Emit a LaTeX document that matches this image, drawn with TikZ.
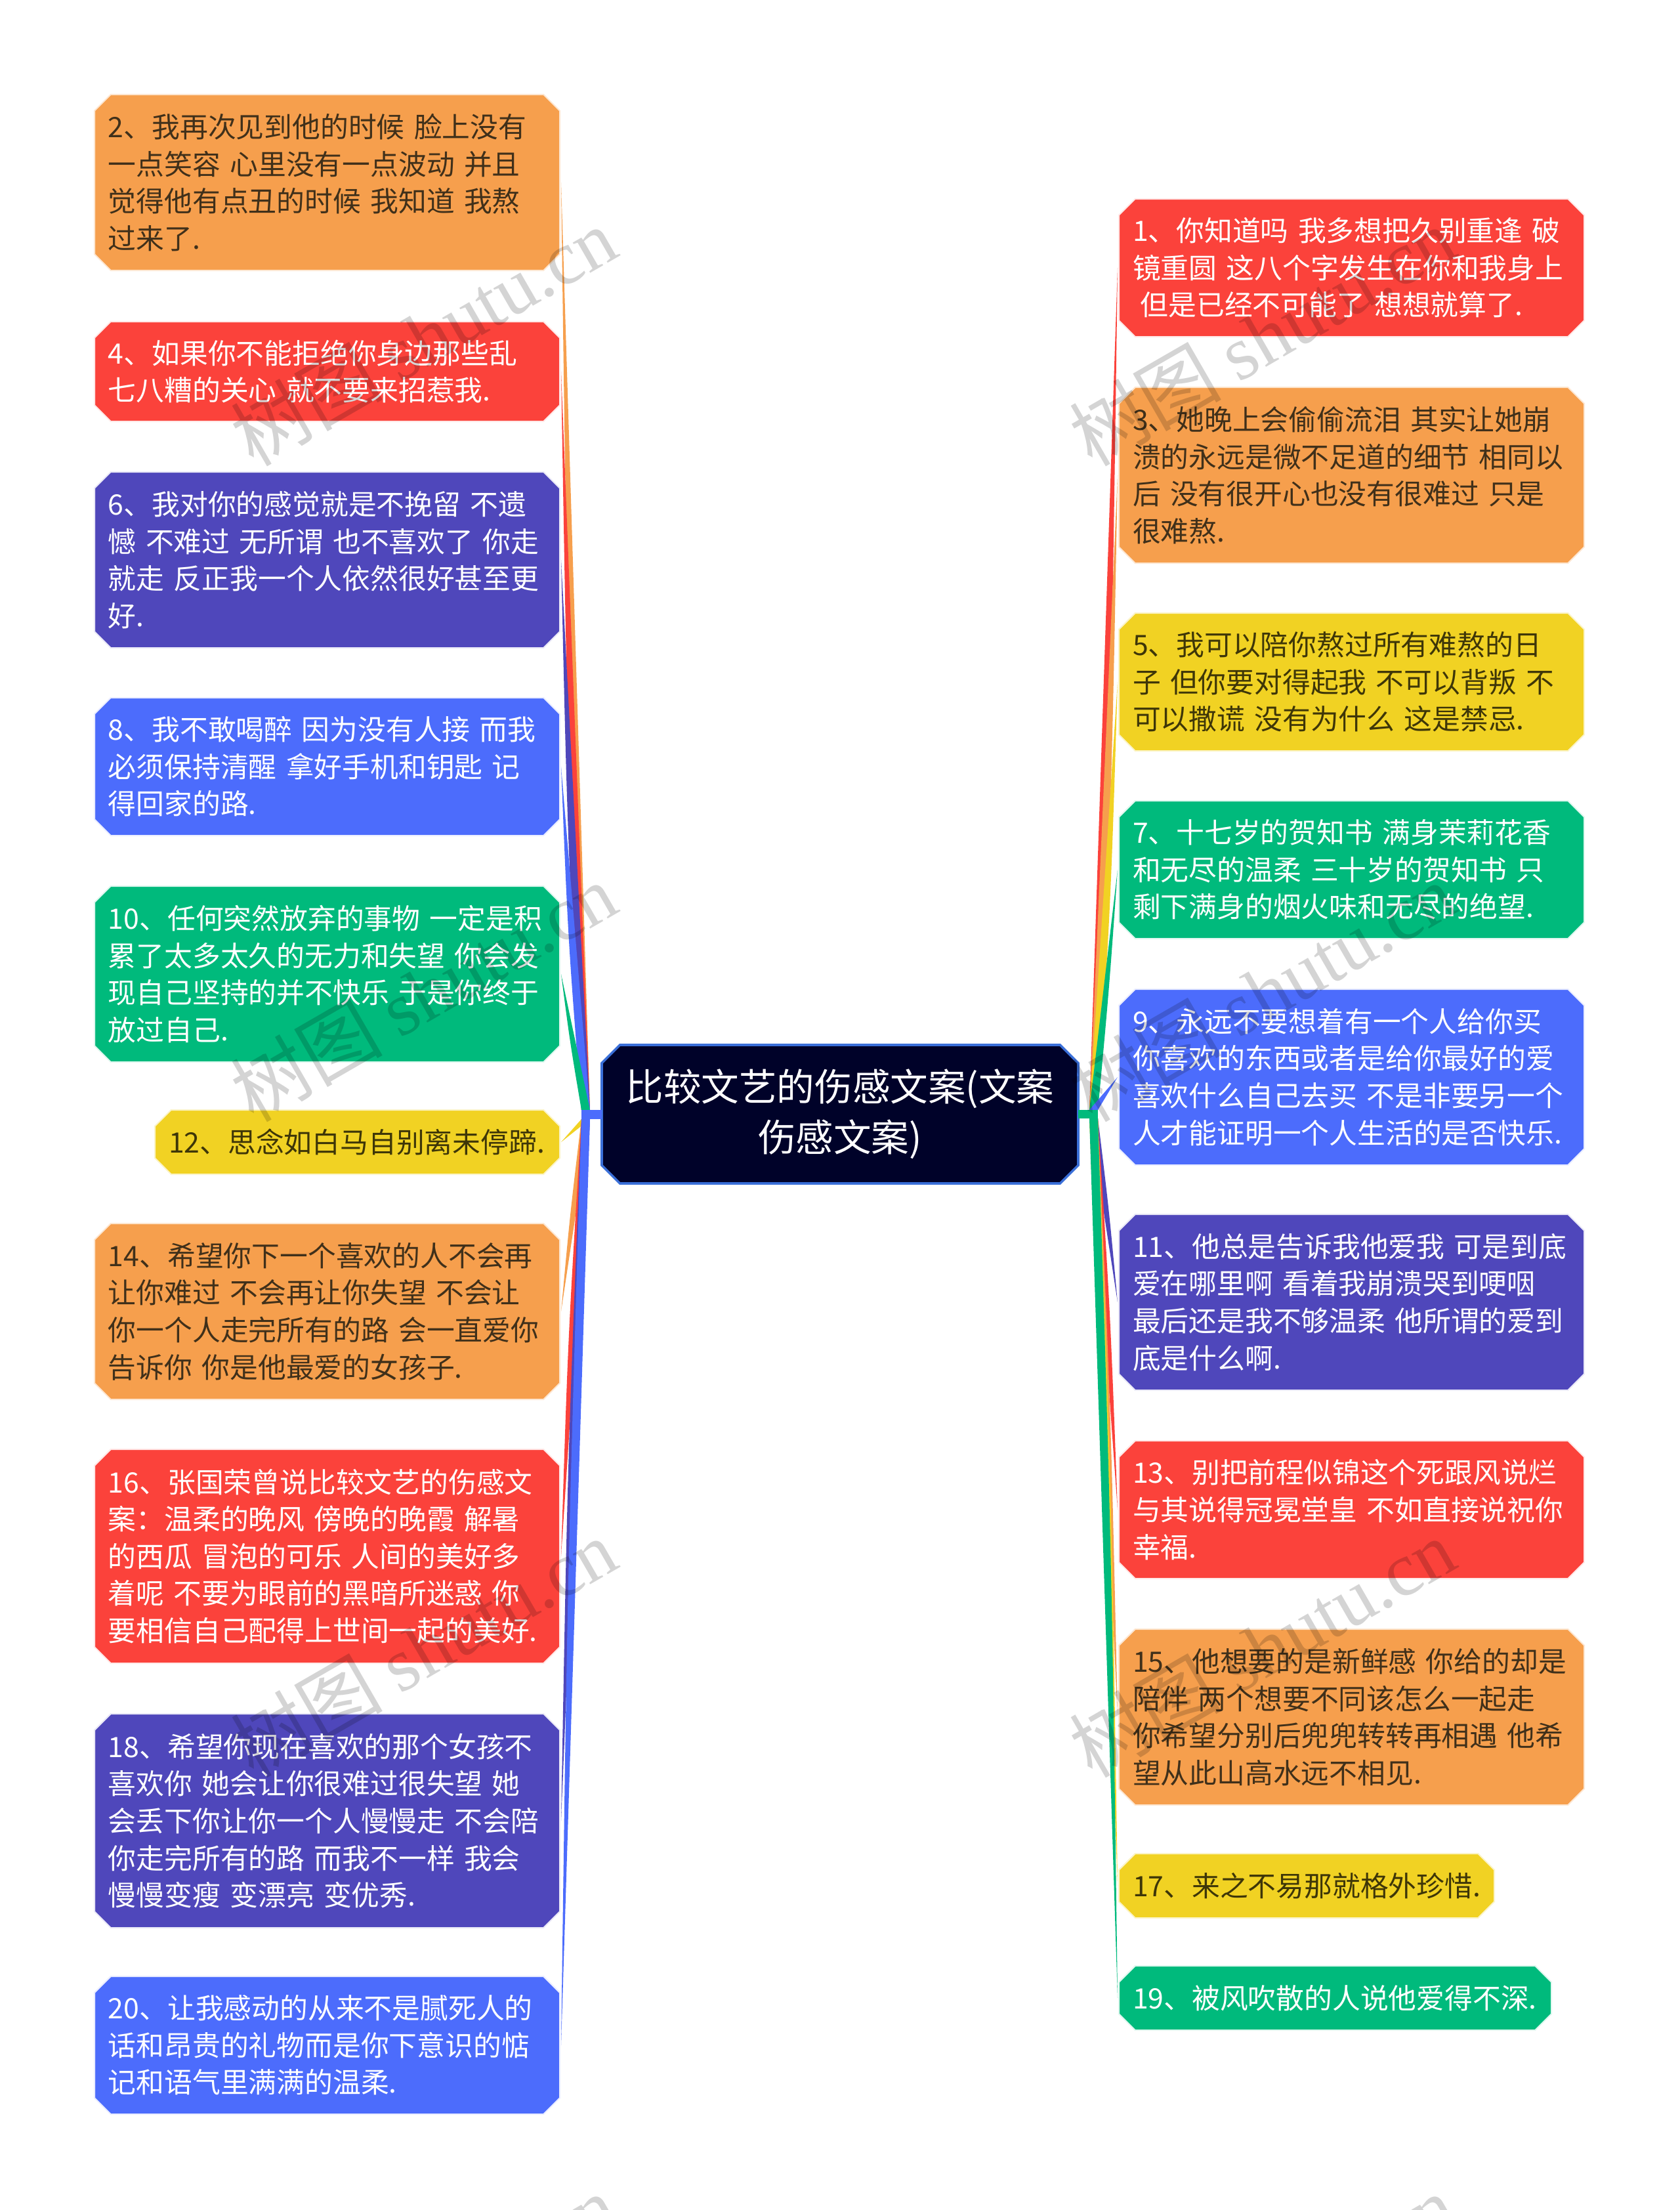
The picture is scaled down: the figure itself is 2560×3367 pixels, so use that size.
\documentclass[tikz,border=0pt]{standalone}
\usepackage{fontspec}
\setmainfont{Noto Sans CJK SC}
\newfontfamily\markfont{Liberation Serif}
\usetikzlibrary{shapes.misc}
\usetikzlibrary{calc}
\definecolor{boxorange}{HTML}{F69F4D}
\definecolor{boxred}{HTML}{FB423B}
\definecolor{boxpurple}{HTML}{4F47BB}
\definecolor{boxblue}{HTML}{4C6CFC}
\definecolor{boxgreen}{HTML}{00BA7C}
\definecolor{boxyellow}{HTML}{F1D223}
\definecolor{boxroot}{HTML}{000229}
\definecolor{rootline}{HTML}{3A6FD8}
\definecolor{textorange}{HTML}{40301A}
\definecolor{textyellow}{HTML}{3E3608}
\newcommand{\taper}[5]{\fill [#1] (#2) .. controls ($(#2)!0.5!(#3)+(#5,0)$) .. (#3) -- (#4) -- cycle;}
\tikzset{
  leaf/.style={chamfered rectangle, chamfered rectangle xsep=3.1pt, chamfered rectangle ysep=3.1pt,
    outer sep=0pt, inner ysep=0pt, inner xsep=2.15pt, text width=166.75pt,
    align=left, line width=0.5pt, font=\fontsize{10.7}{14.15}\selectfont},
  orangeleaf/.style={leaf, fill=boxorange, draw=boxorange!25, text=textorange},
  redleaf/.style={leaf, fill=boxred, draw=boxred!12, text=white},
  purpleleaf/.style={leaf, fill=boxpurple, draw=boxpurple!12, text=white},
  blueleaf/.style={leaf, fill=boxblue, draw=boxblue!12, text=white},
  greenleaf/.style={leaf, fill=boxgreen, draw=boxgreen!12, text=white},
  yellowleaf/.style={leaf, fill=boxyellow, draw=boxyellow!25, text=textyellow},
  oneline/.style={minimum height=24.5pt},
  twolines/.style={minimum height=38pt},
  threelines/.style={minimum height=52.5pt},
  fourlines/.style={minimum height=67pt},
  fivelines/.style={minimum height=81.5pt},
  watermark/.style={rotate=30, text=black, text opacity=0.17, inner sep=0pt,
    font=\fontsize{29}{29}\selectfont},
}
\begin{document}
\begin{tikzpicture}[x=0.25pt,y=-0.25pt]
    \clip (0,0) rectangle (2560,3367);
    \node (root) at (1280,1697.5) [chamfered rectangle, chamfered rectangle xsep=3.45pt, chamfered rectangle ysep=3.45pt,
      outer sep=0pt, inner xsep=1.3pt, inner ysep=0pt, minimum height=52.75pt,
      text width=172pt, align=center, fill=boxroot, draw=rootline, line width=0.9pt, text=white,
      font=\fontsize{14.4}{19.3}\selectfont] {比较文艺的伤感文案(文案\\伤感文案)};
    % left side
    \node (n2) at (853,278) [anchor=east, orangeleaf, fourlines] {2、我再次见到他的时候 脸上没有\\一点笑容 心里没有一点波动 并且\\觉得他有点丑的时候 我知道 我熬\\过来了.};
    \node (n4) at (853,566) [anchor=east, redleaf, twolines] {4、如果你不能拒绝你身边那些乱\\七八糟的关心 就不要来招惹我.};
    \node (n6) at (853,853) [anchor=east, purpleleaf, fourlines] {6、我对你的感觉就是不挽留 不遗\\憾 不难过 无所谓 也不喜欢了 你走\\就走 反正我一个人依然很好甚至更\\好.};
    \node (n8) at (853,1168) [anchor=east, blueleaf, threelines] {8、我不敢喝醉 因为没有人接 而我\\必须保持清醒 拿好手机和钥匙 记\\得回家的路.};
    \node (n10) at (853,1484) [anchor=east, greenleaf, fourlines] {10、任何突然放弃的事物 一定是积\\累了太多太久的无力和失望 你会发\\现自己坚持的并不快乐 于是你终于\\放过自己.};
    \node (n12) at (853,1740) [anchor=east, yellowleaf, oneline, text width=143.75pt] {12、思念如白马自别离未停蹄.};
    \node (n14) at (853,1998) [anchor=east, orangeleaf, fourlines] {14、希望你下一个喜欢的人不会再\\让你难过 不会再让你失望 不会让\\你一个人走完所有的路 会一直爱你\\告诉你 你是他最爱的女孩子.};
    \node (n16) at (853,2371) [anchor=east, redleaf, fivelines] {16、张国荣曾说比较文艺的伤感文\\案：温柔的晚风 傍晚的晚霞 解暑\\的西瓜 冒泡的可乐 人间的美好多\\着呢 不要为眼前的黑暗所迷惑 你\\要相信自己配得上世间一起的美好.};
    \node (n18) at (853,2774) [anchor=east, purpleleaf, fivelines] {18、希望你现在喜欢的那个女孩不\\喜欢你 她会让你很难过很失望 她\\会丢下你让你一个人慢慢走 不会陪\\你走完所有的路 而我不一样 我会\\慢慢变瘦 变漂亮 变优秀.};
    \node (n20) at (853,3116) [anchor=east, blueleaf, threelines] {20、让我感动的从来不是腻死人的\\话和昂贵的礼物而是你下意识的惦\\记和语气里满满的温柔.};
    % right side
    \node (n1) at (1705,408) [anchor=west, redleaf, threelines] {1、你知道吗 我多想把久别重逢 破\\镜重圆 这八个字发生在你和我身上\\\hspace*{2.9pt}但是已经不可能了 想想就算了.};
    \node (n3) at (1705,724) [anchor=west, orangeleaf, fourlines] {3、她晚上会偷偷流泪 其实让她崩\\溃的永远是微不足道的细节 相同以\\后 没有很开心也没有很难过 只是\\很难熬.};
    \node (n5) at (1705,1039) [anchor=west, yellowleaf, threelines] {5、我可以陪你熬过所有难熬的日\\子 但你要对得起我 不可以背叛 不\\可以撒谎 没有为什么 这是禁忌.};
    \node (n7) at (1705,1325) [anchor=west, greenleaf, threelines] {7、十七岁的贺知书 满身茉莉花香\\和无尽的温柔 三十岁的贺知书 只\\剩下满身的烟火味和无尽的绝望.};
    \node (n9) at (1705,1641) [anchor=west, blueleaf, fourlines] {9、永远不要想着有一个人给你买\\你喜欢的东西或者是给你最好的爱\\喜欢什么自己去买 不是非要另一个\\人才能证明一个人生活的是否快乐.};
    \node (n11) at (1705,1984) [anchor=west, purpleleaf, fourlines] {11、他总是告诉我他爱我 可是到底\\爱在哪里啊 看着我崩溃哭到哽咽\\最后还是我不够温柔 他所谓的爱到\\底是什么啊.};
    \node (n13) at (1705,2300) [anchor=west, redleaf, threelines] {13、别把前程似锦这个死跟风说烂\\与其说得冠冕堂皇 不如直接说祝你\\幸福.};
    \node (n15) at (1705,2616) [anchor=west, orangeleaf, fourlines] {15、他想要的是新鲜感 你给的却是\\陪伴 两个想要不同该怎么一起走\\你希望分别后兜兜转转再相遇 他希\\望从此山高水远不相见.};
    \node (n17) at (1705,2873) [anchor=west, yellowleaf, oneline, text width=132.5pt] {17、来之不易那就格外珍惜.};
    \node (n19) at (1705,3044) [anchor=west, greenleaf, oneline, text width=154.25pt] {19、被风吹散的人说他爱得不深.};
    % hubs
    \coordinate (ltop1) at (886,1691);
    \coordinate (ltop2) at (899,1691);
    \coordinate (lbot1) at (886,1705);
    \coordinate (lbot2) at (899,1705);
    \coordinate (rtop1) at (1660,1691);
    \coordinate (rtop2) at (1673,1691);
    \coordinate (rbot1) at (1660,1704);
    \coordinate (rbot2) at (1673,1704);
    % connectors
    \taper{boxorange}{[xshift=.5pt]n2.east}{ltop1}{ltop2}{-6}
    \taper{boxred}{[xshift=.5pt]n4.east}{ltop1}{ltop2}{-6}
    \taper{boxpurple}{[xshift=.5pt]n6.east}{ltop1}{ltop2}{-6}
    \taper{boxblue}{[xshift=.5pt]n8.east}{ltop1}{ltop2}{-5}
    \taper{boxgreen}{[xshift=.5pt]n10.east}{ltop1}{ltop2}{-2}
    \taper{boxyellow}{[xshift=.5pt]n12.east}{lbot1}{lbot2}{0}
    \taper{boxorange}{[xshift=.5pt]n14.east}{lbot1}{lbot2}{-2}
    \taper{boxred}{[xshift=.5pt]n16.east}{lbot1}{lbot2}{-5}
    \taper{boxpurple}{[xshift=.5pt]n18.east}{lbot1}{lbot2}{-6}
    \taper{boxblue}{[xshift=.5pt]n20.east}{lbot1}{lbot2}{-6}
    \fill [boxblue] (lbot1) rectangle (root.west |- ltop1);
    \taper{boxred}{[xshift=-.5pt]n1.west}{rtop2}{rtop1}{6}
    \taper{boxorange}{[xshift=-.5pt]n3.west}{rtop2}{rtop1}{6}
    \taper{boxyellow}{[xshift=-.5pt]n5.west}{rtop2}{rtop1}{5}
    \taper{boxgreen}{[xshift=-.5pt]n7.west}{rtop2}{rtop1}{2}
    \taper{boxblue}{[xshift=-.5pt]n9.west}{rtop2}{rtop1}{0}
    \taper{boxpurple}{[xshift=-.5pt]n11.west}{rbot2}{rbot1}{2}
    \taper{boxred}{[xshift=-.5pt]n13.west}{rbot2}{rbot1}{4}
    \taper{boxorange}{[xshift=-.5pt]n15.west}{rbot2}{rbot1}{5}
    \taper{boxyellow}{[xshift=-.5pt]n17.west}{rbot2}{rbot1}{6}
    \taper{boxgreen}{[xshift=-.5pt]n19.west}{rbot2}{rbot1}{6}
    \fill [boxgreen] (rbot2) rectangle (root.east |- rtop1);
    % watermarks
    \node (mark1) at (645,512) [watermark] {树图 {\markfont shutu.cn}};
    \node (mark2) at (645,1511) [watermark] {树图 {\markfont shutu.cn}};
    \node (mark3) at (645,2510) [watermark] {树图 {\markfont shutu.cn}};
    \node (mark4) at (645,3509) [watermark] {树图 {\markfont shutu.cn}};
    \node (mark5) at (1923,512) [watermark] {树图 {\markfont shutu.cn}};
    \node (mark6) at (1923,1511) [watermark] {树图 {\markfont shutu.cn}};
    \node (mark7) at (1923,2510) [watermark] {树图 {\markfont shutu.cn}};
    \node (mark8) at (1923,3509) [watermark] {树图 {\markfont shutu.cn}};
\end{tikzpicture}
\end{document}
